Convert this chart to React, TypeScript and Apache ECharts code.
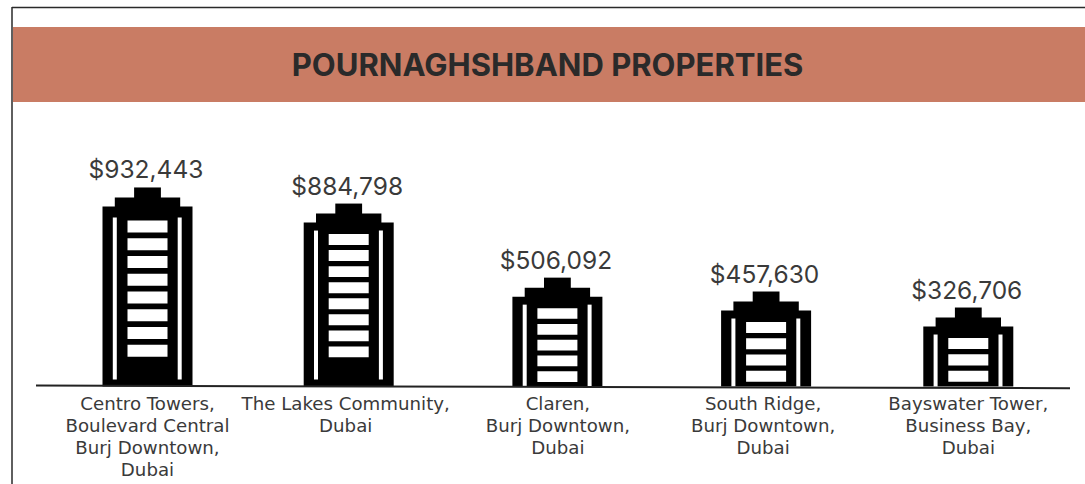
import React, { useEffect, useRef } from "react";
import * as echarts from "echarts";

const titleText = "POURNAGHSHBAND PROPERTIES";
const categories = [
  "Centro Towers,\nBoulevard Central\nBurj Downtown,\nDubai",
  "The Lakes Community,\nDubai",
  "Claren,\nBurj Downtown,\nDubai",
  "South Ridge,\nBurj Downtown,\nDubai",
  "Bayswater Tower,\nBusiness Bay,\nDubai",
];
// The printed prices.
const priceLabels = ["$932,443", "$884,798", "$506,092", "$457,630", "$326,706"];
// The pictograms in the picture are not strictly to scale with the printed prices;
const drawnValues = [932443, 857000, 510000, 445000, 370000];
const floors = [8, 8, 5, 4, 3];

const columnNudge = [0, -4, -0.5, 3, 0];
const INK = "#000000";
const TEXT = "#3a3a3a";
const FONT = "Inter, 'Noto Sans', sans-serif";
const LABEL_FONT = "'DejaVu Sans', sans-serif";

function renderBuilding(params: any, api: any) {
  const i = api.value(0);
  const [cx0, top] = api.coord([i, api.value(1)]);
  const [, base] = api.coord([i, 0]);
  const cx = cx0 + columnNudge[i];
  const h = base - top;
  const n = floors[i];
  const tall = n >= 8;
  const white = { fill: "#ffffff" };
  const block = { fill: INK };
  const rect = (x: number, y: number, width: number, height: number, style: any) => ({
    type: "rect",
    shape: { x, y, width, height },
    style,
  });
  const windowStart = top + (h > 190 ? 33 : 30.5);
  const windowEnd = base - (tall ? 29 : 4.5);
  const pitch = (windowEnd - windowStart + 5) / n;
  const windowHeight = pitch * 0.68;
  const slitTop = top + (h > 190 ? 30 : 27);
  const slitBottom = base - (tall ? 7 : 0);
  const children: any[] = [
    rect(cx - 13.4, top, 26.8, 11, block),
    rect(cx - 32.7, top + 10, 65.4, 10, block),
    rect(cx - 45, top + 19, 90, h - 19, block),
    rect(cx - 34.7, slitTop, 4, slitBottom - slitTop, white),
    rect(cx + 30.2, slitTop, 4, slitBottom - slitTop, white),
  ];
  for (let k = 0; k < n; k++) {
    children.push(rect(cx - 20, windowStart + k * pitch, 40, windowHeight, white));
  }
  children.push({
    type: "text",
    style: {
      text: priceLabels[i],
      x: cx - 1.5,
      y: top - 18,
      align: "center",
      verticalAlign: "middle",
      fill: TEXT,
      font: `400 24.5px ${FONT}`,
    },
  });
  return { type: "group", children };
}

export default function App() {
  const ref = useRef<HTMLDivElement>(null);
  useEffect(() => {
    document.body.style.margin = "0";
    document.body.style.overflow = "hidden";
    const chart = echarts.init(ref.current!, undefined, { renderer: "svg" });
    chart.setOption({
      animation: false,
      backgroundColor: "#ffffff",
      title: {
        text: titleText,
        left: 542.5,
        top: 59,
        textAlign: "center",
        textVerticalAlign: "middle",
        textStyle: { color: "#2a2a2a", fontSize: 31, fontWeight: 700, fontFamily: FONT },
      },
      grid: { left: 44.9, right: 14.1, top: 109, bottom: 97.5 },
      xAxis: {
        type: "category",
        data: categories.map((value, i) =>
          i === 1 ? { value, textStyle: { padding: [0, 14, 0, 0] } } : value
        ),
        axisLine: { show: false },
        axisTick: { show: false },
        axisLabel: {
          interval: 0,
          margin: 6,
          color: TEXT,
          fontFamily: LABEL_FONT,
          fontSize: 18.2,
          lineHeight: 22,
        },
      },
      yAxis: { type: "value", min: 0, max: 1300000, show: false },
      graphic: [
        { type: "rect", z: -1, shape: { x: 13, y: 27, width: 1072, height: 75 }, style: { fill: "#c97c64" } },
        { type: "line", shape: { x1: 12, y1: 7.5, x2: 1085, y2: 7.5 }, style: { stroke: "#2a2a2a", lineWidth: 1.5 } },
        { type: "line", shape: { x1: 12, y1: 7, x2: 12, y2: 484 }, style: { stroke: "#2a2a2a", lineWidth: 1.5 } },
        { type: "line", z: 10, shape: { x1: 36, y1: 385.6, x2: 1070, y2: 388.2 }, style: { stroke: "#222222", lineWidth: 2 } },
      ],
      series: [
        {
          type: "custom",
          renderItem: renderBuilding,
          encode: { x: 0, y: 1 },
          data: drawnValues.map((v, i) => [i, v]),
          clip: false,
        },
      ],
    });
    return () => chart.dispose();
  }, []);
  return <div ref={ref} style={{ width: 1085, height: 484 }} />;
}
